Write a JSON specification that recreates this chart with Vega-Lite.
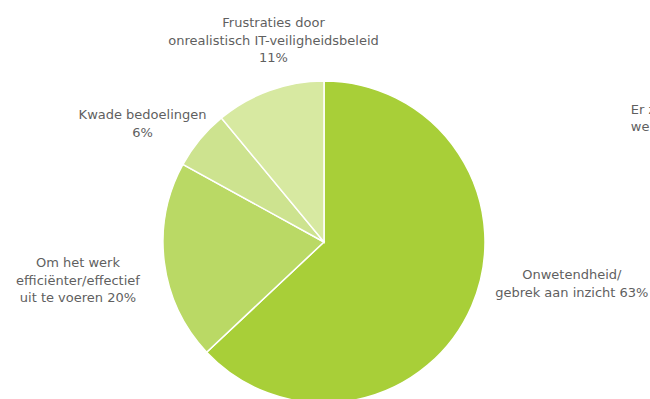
{
  "$schema": "https://vega.github.io/schema/vega-lite/v6.json",
  "width": 648,
  "height": 314,
  "autosize": {"type": "none"},
  "padding": {"left": 0, "top": 85, "right": 2, "bottom": 0},
  "background": "white",
  "config": {"view": {"stroke": null}, "text": {"font": "DejaVu Sans", "fontSize": 13, "color": "#5f5f5f", "lineBreak": "\n", "lineHeight": 17.5}},
  "layer": [
    {
      "data": {"name": "slices", "values": [
        {"nr": 1, "cat": "Onwetendheid", "pct": 63, "label": "Onwetendheid/\ngebrek aan inzicht 63%"},
        {"nr": 2, "cat": "Om het werk", "pct": 20, "label": "Om het werk\nefficiënter/effectief\nuit te voeren 20%"},
        {"nr": 3, "cat": "Kwade bedoelingen", "pct": 6, "label": "Kwade bedoelingen\n6%"},
        {"nr": 4, "cat": "Frustraties", "pct": 11, "label": "Frustraties door\nonrealistisch IT-veiligheidsbeleid\n11%"}
      ]},
      "encoding": {
        "theta": {"field": "pct", "type": "quantitative", "stack": true},
        "order": {"field": "nr", "type": "quantitative"}
      },
      "layer": [
        {
          "mark": {"type": "arc", "outerRadius": 161, "stroke": "white", "strokeWidth": 1.5},
          "encoding": {
            "color": {"field": "cat", "type": "nominal", "legend": null,
              "scale": {"domain": ["Onwetendheid", "Om het werk", "Kwade bedoelingen", "Frustraties"],
                        "range": ["#a8cf38", "#bad965", "#cde38f", "#d7e9a1"]}}
          }
        },
        {
          "mark": {"type": "text", "radius": 270, "dy": -74, "align": "center", "baseline": "middle"},
          "encoding": {"text": {"condition": {"test": "datum.nr === 1", "field": "label"}, "value": ""}}
        },
        {
          "mark": {"type": "text", "radius": 248, "dy": -10, "align": "center", "baseline": "middle"},
          "encoding": {"text": {"condition": {"test": "datum.nr === 2", "field": "label"}, "value": ""}}
        },
        {
          "mark": {"type": "text", "radius": 216, "dx": -15, "dy": 11, "align": "center", "baseline": "middle"},
          "encoding": {"text": {"condition": {"test": "datum.nr === 3", "field": "label"}, "value": ""}}
        },
        {
          "mark": {"type": "text", "radius": 214, "dx": 22, "dy": -17.5, "align": "center", "baseline": "middle"},
          "encoding": {"text": {"condition": {"test": "datum.nr === 4", "field": "label"}, "value": ""}}
        }
      ]
    },
    {
      "data": {"values": [{"label": "Er zijn geen\nwerkelijke redenen"}]},
      "mark": {"type": "text", "theta": 1.1642, "radius": 334, "align": "left", "baseline": "middle"},
      "encoding": {"text": {"field": "label", "type": "nominal"}}
    }
  ]
}
